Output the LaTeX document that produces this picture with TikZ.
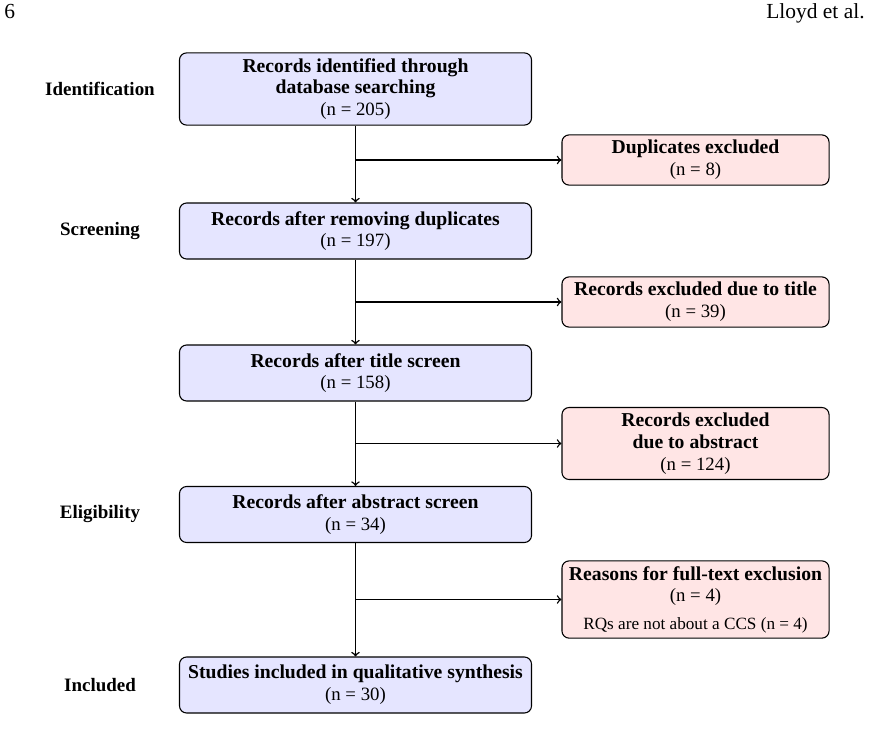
\documentclass[tikz,border=0pt]{standalone}
\usepackage{fontspec}
\setmainfont{Liberation Serif}
\usetikzlibrary{positioning}
\newcommand{\cnt}[1]{{\fontsize{10.5}{12}\selectfont (n = #1)}}

\begin{document}
\begin{tikzpicture}[x=0.559pt, y=-0.559pt, >=to,
  every node/.style={align=center, font=\fontsize{11}{12.2}\selectfont},
  rec/.style={draw, semithick, rounded corners, fill=blue!10, minimum width=196.8pt, minimum height=31.3pt, inner sep=3pt},
  excl/.style={draw, semithick, rounded corners, fill=red!10, minimum width=149.3pt, minimum height=28pt, inner sep=3pt},
  stage/.style={font=\fontsize{10.6}{12}\selectfont\bfseries},
  head/.style={font=\fontsize{12}{14}\selectfont, inner sep=0pt},
  flow/.style={->, thick}]
\useasboundingbox (0,0) rectangle (869,740);
\node[head, anchor=base west] (page) at (4,18) {6};
\node[head, anchor=base east] (author) at (865,18) {Lloyd et al.};
\node[rec] (R0) at (355.5,89) {\textbf{Records identified through}\\\textbf{database searching}\\\cnt{205}};
\node[rec] (R1) at (355.5,231) {\textbf{Records after removing duplicates}\\\cnt{197}};
\node[rec] (R2) at (355.5,373) {\textbf{Records after title screen}\\\cnt{158}};
\node[rec] (R3) at (355.5,514.5) {\textbf{Records after abstract screen}\\\cnt{34}};
\node[rec] (R4) at (355.5,685) {\textbf{Studies included in qualitative synthesis}\\\cnt{30}};
\node[excl] (E1) at (695.5,160) {\textbf{Duplicates excluded}\\\cnt{8}};
\node[excl] (E2) at (695.5,302) {\textbf{Records excluded due to title}\\\cnt{39}};
\node[excl] (E3) at (695.5,443.5) {\textbf{Records excluded}\\\textbf{due to abstract}\\\cnt{124}};
\node[excl] (E4) at (695.5,599.5) {\textbf{Reasons for full-text exclusion}\\\cnt{4}\\[3pt]{\fontsize{9.6}{11}\selectfont RQs are not about a CCS (n = 4)}};
\node[stage] (S0) at (100,89) {Identification};
\node[stage] (S1) at (100,231) {Screening};
\node[stage] (S3) at (100,514.5) {Eligibility};
\node[stage] (S4) at (100,685) {Included};
\coordinate (B1) at (R0.south |- E1.west);
\coordinate (B2) at (R1.south |- E2.west);
\coordinate (B3) at (R2.south |- E3.west);
\coordinate (B4) at (R3.south |- E4.west);
\draw[flow] (R0) -- (R1);
\draw[flow] (R1) -- (R2);
\draw[flow] (R2) -- (R3);
\draw[flow] (R3) -- (R4);
\draw[flow] (B1) -- (E1);
\draw[flow] (B2) -- (E2);
\draw[flow] (B3) -- (E3);
\draw[flow] (B4) -- (E4);
\end{tikzpicture}
\end{document}
